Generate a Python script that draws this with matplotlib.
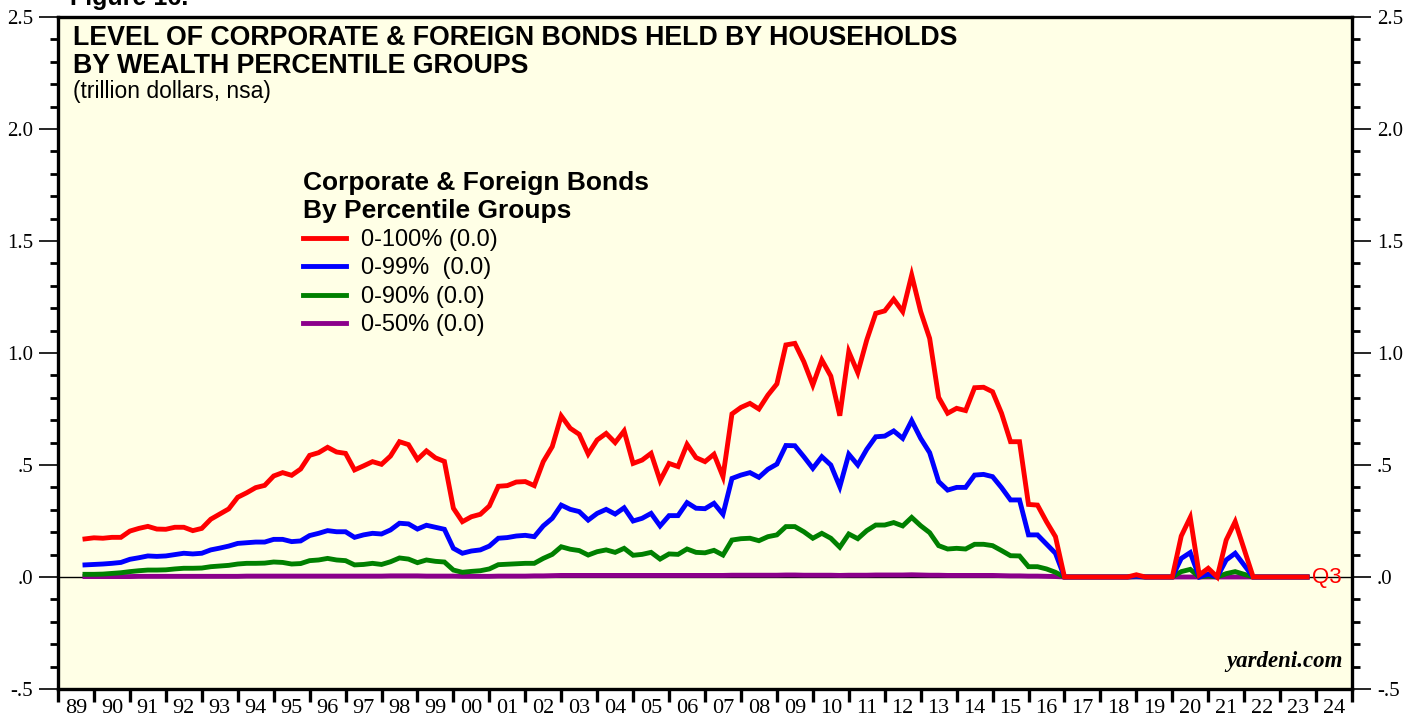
import numpy as np
import matplotlib
matplotlib.use("Agg")
import matplotlib.pyplot as plt
from matplotlib.ticker import MultipleLocator, FixedLocator, NullFormatter
from matplotlib.lines import Line2D

# quarterly data, 1989Q3 .. 2023Q3 (trillion dollars)
start_year, start_q = 1989, 3

red = [0.170, 0.175,
       0.173, 0.177, 0.177, 0.205,
       0.217, 0.226, 0.214, 0.213,
       0.222, 0.222, 0.207, 0.217,
       0.258, 0.281, 0.304, 0.356,
       0.376, 0.399, 0.409, 0.451,
       0.466, 0.454, 0.482, 0.543,
       0.555, 0.579, 0.558, 0.552,
       0.478, 0.496, 0.515, 0.503,
       0.540, 0.604, 0.591, 0.525,
       0.563, 0.532, 0.516, 0.307,
       0.247, 0.269, 0.280, 0.317,
       0.405, 0.408, 0.424, 0.426,
       0.408, 0.515, 0.582, 0.719,
       0.664, 0.637, 0.549, 0.612,
       0.641, 0.600, 0.652, 0.507,
       0.522, 0.552, 0.430, 0.507,
       0.493, 0.592, 0.533, 0.515,
       0.548, 0.448, 0.728, 0.757,
       0.775, 0.750, 0.812, 0.862,
       1.036, 1.043, 0.961, 0.857,
       0.969, 0.897, 0.720, 1.006,
       0.912, 1.058, 1.177, 1.188,
       1.240, 1.185, 1.348, 1.185,
       1.065, 0.802, 0.731, 0.753,
       0.743, 0.845, 0.847, 0.827,
       0.731, 0.604, 0.604, 0.324,
       0.321, 0.247, 0.180, 0.0,
       0.0, 0.0, 0.0, 0.0,
       0.0, 0.0, 0.0, 0.010,
       0.0, 0.0, 0.0, 0.0,
       0.183, 0.266, 0.009, 0.039,
       0.0, 0.165, 0.247, 0.124,
       0.0, 0.0, 0.0, 0.0,
       0.0, 0.0, 0.0]

blue = [0.054, 0.056,
        0.058, 0.061, 0.065, 0.079,
        0.086, 0.094, 0.092, 0.094,
        0.100, 0.106, 0.103, 0.106,
        0.121, 0.129, 0.138, 0.150,
        0.153, 0.156, 0.156, 0.168,
        0.168, 0.158, 0.161, 0.185,
        0.195, 0.207, 0.202, 0.202,
        0.177, 0.188, 0.195, 0.192,
        0.210, 0.240, 0.237, 0.214,
        0.231, 0.222, 0.213, 0.128,
        0.106, 0.116, 0.121, 0.138,
        0.173, 0.176, 0.183, 0.186,
        0.180, 0.228, 0.262, 0.321,
        0.302, 0.292, 0.254, 0.284,
        0.302, 0.281, 0.309, 0.250,
        0.262, 0.284, 0.228, 0.274,
        0.274, 0.332, 0.307, 0.305,
        0.329, 0.280, 0.440, 0.455,
        0.466, 0.445, 0.481, 0.504,
        0.587, 0.586, 0.537, 0.485,
        0.537, 0.500, 0.403, 0.548,
        0.500, 0.570, 0.626, 0.629,
        0.652, 0.619, 0.698, 0.619,
        0.555, 0.426, 0.388, 0.400,
        0.400, 0.455, 0.458, 0.448,
        0.399, 0.344, 0.344, 0.188,
        0.188, 0.147, 0.106, 0.0,
        0.0, 0.0, 0.0, 0.0,
        0.0, 0.0, 0.0, 0.004,
        0.0, 0.0, 0.0, 0.0,
        0.083, 0.109, 0.0, 0.013,
        0.0, 0.076, 0.106, 0.053,
        0.0, 0.0, 0.0, 0.0,
        0.0, 0.0, 0.0]

green = [0.012, 0.012,
         0.013, 0.016, 0.019, 0.024,
         0.028, 0.031, 0.031, 0.032,
         0.036, 0.039, 0.039, 0.040,
         0.046, 0.049, 0.052, 0.058,
         0.061, 0.061, 0.062, 0.067,
         0.065, 0.058, 0.060, 0.073,
         0.076, 0.083, 0.076, 0.073,
         0.054, 0.056, 0.061, 0.056,
         0.068, 0.085, 0.080, 0.064,
         0.076, 0.070, 0.067, 0.031,
         0.021, 0.025, 0.028, 0.036,
         0.055, 0.057, 0.059, 0.061,
         0.061, 0.083, 0.101, 0.135,
         0.124, 0.118, 0.098, 0.113,
         0.121, 0.110, 0.128, 0.097,
         0.101, 0.110, 0.080, 0.103,
         0.101, 0.125, 0.110, 0.108,
         0.119, 0.098, 0.165, 0.171,
         0.173, 0.162, 0.180, 0.188,
         0.225, 0.225, 0.202, 0.173,
         0.195, 0.173, 0.133, 0.192,
         0.171, 0.207, 0.232, 0.232,
         0.243, 0.228, 0.266, 0.229,
         0.198, 0.140, 0.125, 0.128,
         0.125, 0.146, 0.146, 0.140,
         0.118, 0.095, 0.094, 0.046,
         0.046, 0.036, 0.021, 0.0,
         0.0, 0.0, 0.0, 0.0,
         0.0, 0.0, 0.0, 0.002,
         0.0, 0.0, 0.0, 0.0,
         0.024, 0.034, 0.0, 0.005,
         0.0, 0.015, 0.024, 0.012,
         0.0, 0.0, 0.0, 0.0,
         0.0, 0.0, 0.0]

purple = [0.002, 0.002,
          0.002, 0.002, 0.002, 0.002,
          0.003, 0.003, 0.003, 0.003,
          0.003, 0.003, 0.003, 0.003,
          0.003, 0.003, 0.003, 0.003,
          0.004, 0.004, 0.004, 0.004,
          0.004, 0.004, 0.004, 0.004,
          0.004, 0.004, 0.004, 0.004,
          0.004, 0.004, 0.004, 0.004,
          0.005, 0.005, 0.005, 0.005,
          0.004, 0.004, 0.004, 0.004,
          0.003, 0.003, 0.003, 0.003,
          0.004, 0.004, 0.004, 0.004,
          0.005, 0.005, 0.006, 0.007,
          0.007, 0.007, 0.007, 0.007,
          0.007, 0.007, 0.007, 0.007,
          0.007, 0.007, 0.007, 0.007,
          0.007, 0.007, 0.007, 0.007,
          0.007, 0.007, 0.008, 0.008,
          0.008, 0.008, 0.008, 0.008,
          0.009, 0.009, 0.008, 0.008,
          0.008, 0.008, 0.007, 0.008,
          0.008, 0.008, 0.009, 0.009,
          0.009, 0.009, 0.010, 0.009,
          0.008, 0.008, 0.007, 0.007,
          0.007, 0.007, 0.007, 0.007,
          0.006, 0.005, 0.005, 0.004,
          0.004, 0.003, 0.002, 0.0,
          0.0, 0.0, 0.0, 0.0,
          0.0, 0.0, 0.0, 0.0,
          0.0, 0.0, 0.0, 0.0,
          0.0, 0.0, 0.0, 0.0,
          0.0, 0.0, 0.0, 0.0,
          0.0, 0.0, 0.0, 0.0,
          0.0, 0.0, 0.0]

labels = ["0-100% (0.0)", "0-99%  (0.0)", "0-90% (0.0)", "0-50% (0.0)"]
colors = ["#ff0000", "#0000ff", "#008000", "#8b008b"]

year_labels = ["89", "90", "91", "92", "93", "94", "95", "96", "97", "98", "99",
               "00", "01", "02", "03", "04", "05", "06", "07", "08", "09", "10",
               "11", "12", "13", "14", "15", "16", "17", "18", "19", "20", "21",
               "22", "23", "24"]
ytick_vals = [-0.5, 0.0, 0.5, 1.0, 1.5, 2.0, 2.5]
ytick_txt = ["-.5", ".0", ".5", "1.0", "1.5", "2.0", "2.5"]

# quarter-end positions
n = len(red)
x = start_year + (start_q + np.arange(n)) / 4.0

fig = plt.figure(figsize=(14.19, 7.21), dpi=100)
ax = fig.add_axes([58 / 1419, 32 / 721, 1294 / 1419, 672 / 721])
ax.set_facecolor("#ffffe6")

ax.axhline(0, color="black", lw=1.0, zorder=1)

series = [red, blue, green, purple]
handles = []
for vals, c, lab in zip(series, colors, labels):
    handles.append(Line2D([], [], color=c, lw=3.5, label=lab))
for vals, c in reversed(list(zip(series, colors))):
    ax.plot(x, vals, color=c, lw=3.5, solid_joinstyle="miter", zorder=3)

ax.set_xlim(1989, 2025)
ax.set_ylim(-0.5, 2.5)

for s in ax.spines.values():
    s.set_linewidth(2.4)

# x axis: year ticks, labels in between
ax.xaxis.set_major_locator(FixedLocator(np.arange(1989, 2026)))
ax.xaxis.set_major_formatter(NullFormatter())
ax.xaxis.set_minor_locator(FixedLocator(np.arange(1989, 2025) + 0.5))
ax.set_xticklabels(year_labels, minor=True)
ax.tick_params(axis="x", which="major", direction="out", length=9, width=2.4)
ax.tick_params(axis="x", which="minor", length=0, pad=7, labelsize=16)

# y axis both sides
ax.yaxis.set_major_locator(FixedLocator(ytick_vals))
ax.set_yticklabels(ytick_txt)
ax.yaxis.set_minor_locator(MultipleLocator(0.1))
ax.tick_params(axis="y", which="major", direction="out", length=14, width=1.2,
               left=True, right=True, labelleft=True, labelright=True, labelsize=15, pad=4)
ax.tick_params(axis="y", which="minor", direction="out", length=6, width=2.0,
               left=True, right=True)

for t in ax.get_xticklabels(minor=True) + ax.get_yticklabels():
    t.set_fontfamily("Liberation Serif")

# titles
fig.text(73 / 1419, 1 - 25 / 721, "LEVEL OF CORPORATE & FOREIGN BONDS HELD BY HOUSEHOLDS",
         fontsize=19.3, fontweight="bold", family="Liberation Sans", va="top")
fig.text(73 / 1419, 1 - 53 / 721, "BY WEALTH PERCENTILE GROUPS",
         fontsize=19.3, fontweight="bold", family="Liberation Sans", va="top")
fig.text(73 / 1419, 1 - 80 / 721, "(trillion dollars, nsa)",
         fontsize=16.5, family="Liberation Sans", va="top")
fig.text(70 / 1419, 1 - 5 / 721, "Figure 16.", fontsize=18, fontweight="bold",
         family="Liberation Sans", va="baseline")

leg = ax.legend(handles=handles, loc="upper left", bbox_to_anchor=(0.1895, 0.771),
                frameon=False, borderpad=0, borderaxespad=0, handlelength=1.8,
                handletextpad=0.64, labelspacing=0.27, alignment="left",
                title="Corporate & Foreign Bonds\nBy Percentile Groups",
                title_fontproperties={"weight": "bold", "size": 19, "family": "Liberation Sans"},
                prop={"size": 17, "family": "Liberation Sans"})

ax.text(0.9925, 0.025, "yardeni.com", transform=ax.transAxes, ha="right", va="bottom",
        fontsize=16.5, fontweight="bold", style="italic", family="Liberation Serif")
ax.text(x[-1] + 0.15, 0.0, "Q3", color="#ff0000", fontsize=16, family="Liberation Sans",
        va="center", ha="left")

fig.savefig("out.png", dpi=100)
